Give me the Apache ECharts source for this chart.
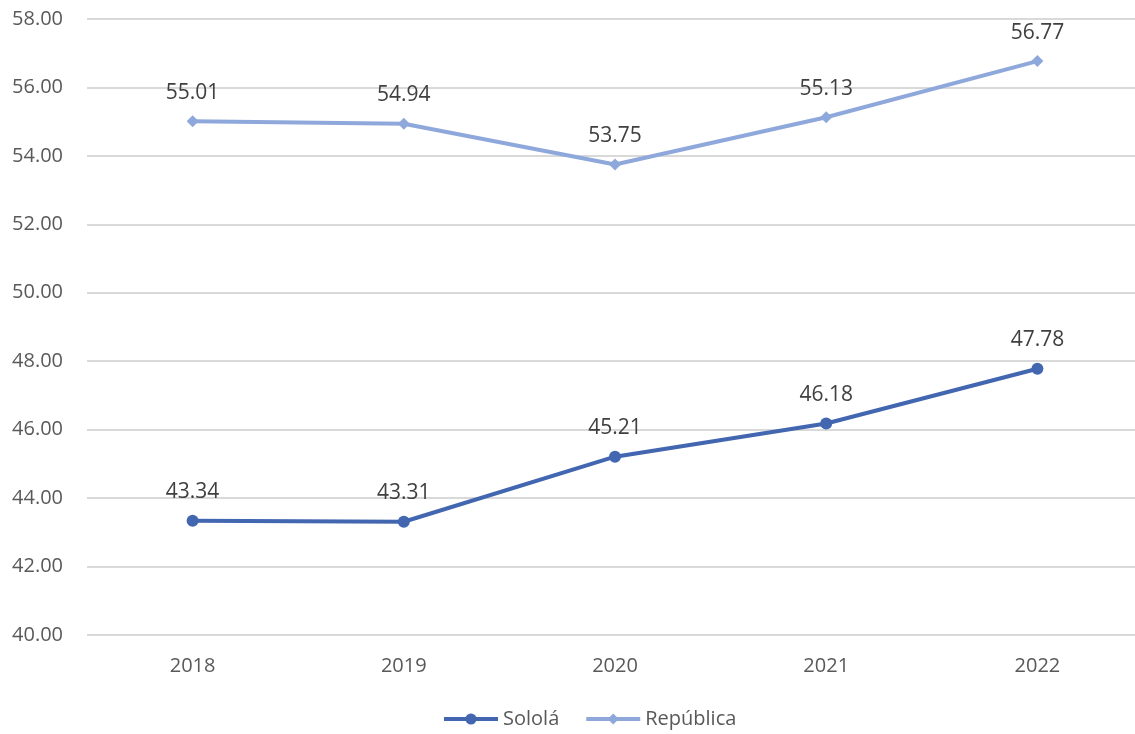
<!DOCTYPE html>
<html>
<head>
<meta charset="utf-8">
<script src="https://cdn.jsdelivr.net/npm/echarts@6/dist/echarts.min.js"></script>
<style>
  html, body { margin: 0; padding: 0; background: #fff; }
  #chart { width: 1135px; height: 734px; }
</style>
</head>
<body>
<div id="chart"></div>
<script>
var years = ['2018', '2019', '2020', '2021', '2022'];
var solola = [43.34, 43.31, 45.21, 46.18, 47.78];
var republica = [55.01, 54.94, 53.75, 55.13, 56.77];

var myChart = echarts.init(document.getElementById('chart'));
var fontFam = 'Open Sans, Noto Sans, sans-serif';
var labelStyle = {
    show: true,
    position: 'top',
    distance: 12,
    fontFamily: fontFam,
    fontSize: 21,
    color: '#404040',
    formatter: function (p) { return p.value.toFixed(2); }
};
var option = {
    animation: false,
    grid: { left: 87, width: 1056, top: 19, height: 616, outerBoundsMode: 'none', containLabel: false },
    legend: {
        bottom: 0,
        left: 437,
        itemWidth: 54,
        itemHeight: 14,
        itemGap: 25,
        lineStyle: { width: 4 },
        textStyle: { fontSize: 20, color: '#595959', fontFamily: fontFam },
        data: ['Sololá', 'República']
    },
    xAxis: {
        type: 'category',
        data: years,
        axisLine: { show: false },
        axisTick: { show: false },
        axisLabel: { fontSize: 20, color: '#595959', margin: 21, fontFamily: fontFam }
    },
    yAxis: {
        type: 'value',
        min: 40,
        max: 58,
        interval: 2,
        axisLabel: {
            fontSize: 20, color: '#595959', margin: 24,
            fontFamily: fontFam,
            formatter: function (v) { return v.toFixed(2); }
        },
        splitLine: { lineStyle: { color: '#d9d9d9', width: 2 } }
    },
    series: [
        {
            name: 'Sololá',
            type: 'line',
            data: solola,
            symbol: 'circle',
            symbolSize: 12,
            itemStyle: { color: '#4266b0' },
            lineStyle: { width: 4, color: '#4266b0' },
            label: labelStyle
        },
        {
            name: 'República',
            type: 'line',
            data: republica,
            symbol: 'diamond',
            symbolSize: 12,
            itemStyle: { color: '#8fa8db' },
            lineStyle: { width: 4, color: '#8fa8db' },
            label: labelStyle
        }
    ]
};
myChart.setOption(option);
</script>
</body>
</html>
